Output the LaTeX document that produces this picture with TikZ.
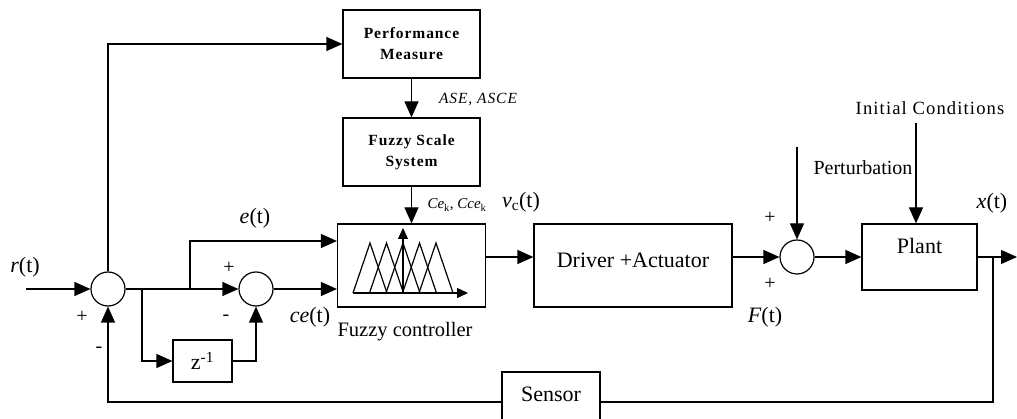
\documentclass[tikz,border=0pt]{standalone}
\usepackage{fontspec}
\setmainfont{Liberation Serif}
\newfontfamily\spacedfont[LetterSpace=6]{Liberation Serif}
\usetikzlibrary{arrows.meta,positioning}

\begin{document}
\begin{tikzpicture}[
    x=1pt,y=-1pt,
    line width=1.2pt,
    box/.style={draw,inner sep=0pt,font=\fontsize{22}{26}\selectfont},
    blockbold/.style={box,minimum width=137pt,minimum height=68pt,align=center,font=\spacedfont\bfseries\fontsize{15.5}{21}\selectfont},
    sumnode/.style={draw,circle,minimum size=34pt,inner sep=0pt},
    arrow/.style={-{Triangle[length=16pt,width=14pt]}},
    smallarrow/.style={-{Triangle[length=11pt,width=10pt]}},
    lbl/.style={font=\fontsize{22}{26}\selectfont},
    sign/.style={font=\fontsize{20}{24}\selectfont}
  ]
  \useasboundingbox (0,0) rectangle (1017,419);

  \node[blockbold] (perf) at (411.5,44) {Performance\\Measure};
  \node[blockbold] (fss) at (411.5,152) {Fuzzy Scale\\System};
  \node[box,minimum width=148pt,minimum height=83pt] (fuzzy) at (411.5,265.5) {};
  \node[box,minimum width=198pt,text height=44pt,text depth=39pt] (driver) at (633,265.5) {Driver +Actuator};
  \node[box,minimum width=115pt,text height=30pt,text depth=36pt] (plant) at (919.5,257) {Plant};
  \node[box,minimum width=98pt,text height=29pt,text depth=31pt] (sensor) at (551,402) {Sensor};
  \node[box,minimum width=59pt,minimum height=42pt] (zdel) at (202.5,361) {z\textsuperscript{-1}};

  \node[sumnode] (s1) at (108,289) {};
  \node[sumnode] (s2) at (256,289) {};
  \node[sumnode] (s3) at (797,257) {};

  \coordinate (rin) at (26,289);
  \coordinate (j1) at (142,289);
  \coordinate (j2) at (190,289);
  \coordinate (etop) at (190,241);
  \coordinate (pin) at (797,147);
  \coordinate (icin) at (916,123);
  \coordinate (j3) at (993,257);
  \coordinate (xout) at (1017,257);

  % membership functions
  \foreach \p in {370,386.5,403,419.5,436}
    \draw (\p-17,293) -- (\p,243) -- (\p+17,293);
  \draw[smallarrow] (353,293) -- (468,293);
  \draw[smallarrow] (403,293) -- (403,228);

  \draw[arrow] (rin) -- (s1);
  \draw[arrow] (s1) -- (s2);
  \draw[arrow] (j1) |- (zdel);
  \draw[arrow] (zdel) -| (s2);
  \draw[arrow] (j2) -- (etop) -- (etop -| fuzzy.west);
  \draw[arrow] (s2) -- (s2 -| fuzzy.west);
  \draw[arrow] (s1) |- (perf);
  \draw[arrow] (perf) -- (fss);
  \draw[arrow] (fss) -- (fuzzy);
  \draw[arrow] (fuzzy.east |- s3) -- (driver.west |- s3);
  \draw[arrow] (driver.east |- s3) -- (s3);
  \draw[arrow] (pin) -- (s3);
  \draw[arrow] (s3) -- (plant);
  \draw[arrow] (icin) -- (icin |- plant.north);
  \draw[arrow] (plant) -- (xout);
  \draw (j3) |- (sensor);
  \draw[arrow] (sensor) -| (s1);

  \node[lbl] (rlab) at (25,267) {\textit{r}(t)};
  \node[sign] (p1) at (82,317) {+};
  \node[sign] (m1) at (99,350) {-};
  \node[lbl] (elab) at (255,218) {\textit{e}(t)};
  \node[sign] (p2) at (229,268) {+};
  \node[sign] (m2) at (226,318) {-};
  \node[lbl] (celab) at (310,317) {\textit{ce}(t)};
  \node[font=\fontsize{20.5}{24}\selectfont] (fclab) at (405,332) {Fuzzy controller};
  \node[font=\spacedfont\itshape\fontsize{15.5}{18}\selectfont] (aselab) at (478,100) {ASE, ASCE};
  \node[font=\fontsize{15}{18}\selectfont] (cklab) at (457,205) {\textit{Ce}\textsubscript{k}, \textit{Cce}\textsubscript{k}};
  \node[lbl] (vclab) at (521,202) {\textit{v}\textsubscript{c}(t)};
  \node[sign] (p3) at (770,218) {+};
  \node[sign] (p4) at (770,284) {+};
  \node[lbl] (flab) at (765,317) {\textit{F}(t)};
  \node[font=\fontsize{20}{24}\selectfont] (pertlab) at (863,168) {Perturbation};
  \node[font=\spacedfont\fontsize{18.6}{22}\selectfont] (iclab) at (930,108) {Initial Conditions};
  \node[lbl] (xlab) at (992,203) {\textit{x}(t)};
\end{tikzpicture}
\end{document}
